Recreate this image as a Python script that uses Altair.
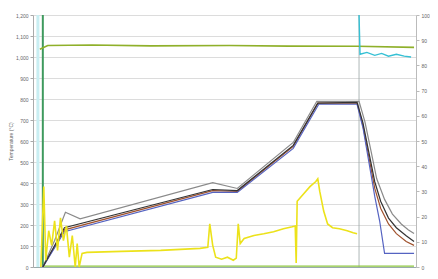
import altair as alt
import pandas as pd

# ---- Temperature profiles (°C) vs time (min) ----
tc_black_t = [10, 32, 183, 208, 265, 290, 330, 336, 342, 348, 354, 362, 370, 380, 388]
tc_black_v = [0, 187, 369, 364, 579, 780, 784, 686, 546, 406, 313, 233, 187, 149, 121]
tc_gray_t = [10, 22, 33, 48, 183, 208, 265, 289, 332, 338, 344, 350, 358, 366, 375, 382, 388]
tc_gray_v = [0, 126, 261, 229, 402, 374, 593, 789, 789, 691, 556, 420, 322, 252, 205, 177, 159]
tc_blue_t = [10, 32, 183, 208, 265, 291, 330, 336, 342, 348, 353, 358, 388]
tc_blue_v = [0, 168, 355, 355, 565, 775, 775, 663, 500, 336, 219, 65, 65]
tc_brown_t = [10, 32, 183, 208, 265, 290, 330, 336, 342, 348, 354, 362, 370, 380, 388]
tc_brown_v = [0, 177, 364, 360, 574, 780, 780, 672, 523, 374, 280, 205, 159, 121, 103]

# ---- setpoint / other channels (left axis) ----
green_top_t = [7, 15, 60, 120, 200, 260, 330, 388]
green_top_v = [1037, 1055, 1057, 1053, 1055, 1052, 1051, 1046]
cyan_t = [332, 333, 340, 348, 355, 362, 370, 378, 385]
cyan_v = [1200, 1013, 1022, 1008, 1017, 1004, 1013, 1004, 1000]
green_bot_t = [10, 100, 200, 300, 388]
green_bot_v = [4, 4, 4, 4, 4]

# ---- right-axis channel (yellow) ----
yel_t = [8, 11, 13, 16, 19, 22, 25, 28, 31, 34, 37, 40, 43, 45, 47, 50, 55, 90, 130, 170,
         178, 180, 183, 186, 192, 198, 204, 207, 209, 211, 215, 225, 235, 245, 255, 264, 267,
         268, 269, 275, 282, 288, 290, 292, 296, 300, 305, 312, 320, 326, 330]
yel_v = [0, 31.9, 2.7, 14.4, 8.6, 18.3, 6.6, 19.5, 10.5, 16.3, 3.9, 12.5, 0, 9.3, 0, 5.4, 5.8,
         6.2, 6.6, 7.4, 7.8, 17.1, 8.6, 3.9, 3.1, 3.9, 2.7, 3.5, 17.1, 9.3, 11.3, 12.5, 13.2,
         14.0, 15.2, 16.0, 16.3, 1.6, 26.1, 28.8, 31.9, 33.9, 35.0, 30.0, 22.2, 17.1, 15.6,
         15.2, 14.4, 13.6, 13.2]

# ---- event markers ----
event_t = [5, 10, 332]
event_colors = ["#c9eef2", "#3f9a5e", "#9aa6a6"]
event_widths = [3, 2, 0.8]

series = [
    (green_bot_t, green_bot_v, "#8cc63f", 1.4),
    (green_top_t, green_top_v, "#8fb02a", 1.6),
    (cyan_t, cyan_v, "#35c0d4", 1.4),
    (tc_gray_t, tc_gray_v, "#8a8a8a", 1.2),
    (tc_brown_t, tc_brown_v, "#a0522d", 1.2),
    (tc_blue_t, tc_blue_v, "#5563c1", 1.2),
    (tc_black_t, tc_black_v, "#333333", 1.2),
]

xscale = alt.Scale(domain=[0, 390], nice=False)
xaxis = alt.Axis(labels=False, ticks=False, grid=False, title=None, domainColor="#9aa")
yscale_left = alt.Scale(domain=[0, 1200], nice=False)
yaxis_left = alt.Axis(values=list(range(0, 1201, 100)), labelFontSize=5,
                      labelColor="#666", title="Temperature (°C)", titleFontSize=5,
                      titleColor="#666", titleFontWeight="normal", titlePadding=2,
                      grid=True, gridColor="#dcdcdc", domainColor="#aaa",
                      tickColor="#aaa", tickSize=3, labelPadding=2)

layers = []
for t_vals, c, w in zip(event_t, event_colors, event_widths):
    layers.append(
        alt.Chart(pd.DataFrame({"t": [t_vals]})).mark_rule(color=c, strokeWidth=w).encode(
            x=alt.X("t:Q", scale=xscale, axis=xaxis))
    )
for ts, vs, c, w in series:
    layers.append(
        alt.Chart(pd.DataFrame({"t": ts, "v": vs})).mark_line(color=c, strokeWidth=w, clip=True).encode(
            x=alt.X("t:Q", scale=xscale, axis=xaxis),
            y=alt.Y("v:Q", scale=yscale_left, axis=yaxis_left))
    )
left = alt.layer(*layers)

yel_df = pd.DataFrame({"t": yel_t, "v": yel_v})
right = alt.Chart(yel_df).mark_line(strokeWidth=1.6, color="#ece21a").encode(
    x=alt.X("t:Q", scale=xscale, axis=xaxis),
    y=alt.Y("v:Q", scale=alt.Scale(domain=[0, 100], nice=False),
            axis=alt.Axis(orient="right", values=list(range(0, 101, 10)), labelFontSize=5,
                          labelColor="#666", title=None, grid=False, domainColor="#bbb",
                          tickColor="#bbb", tickSize=3, labelPadding=2)),
)

chart = alt.layer(left, right).resolve_scale(y="independent").properties(
    width=383, height=252,
    padding={"left": 25, "top": 7, "right": 14, "bottom": 3},
    autosize=alt.AutoSizeParams(type="none"),
    background="white",
).configure_view(stroke=None)

chart.save("out.html", embed_options={"renderer": "svg", "actions": False})
